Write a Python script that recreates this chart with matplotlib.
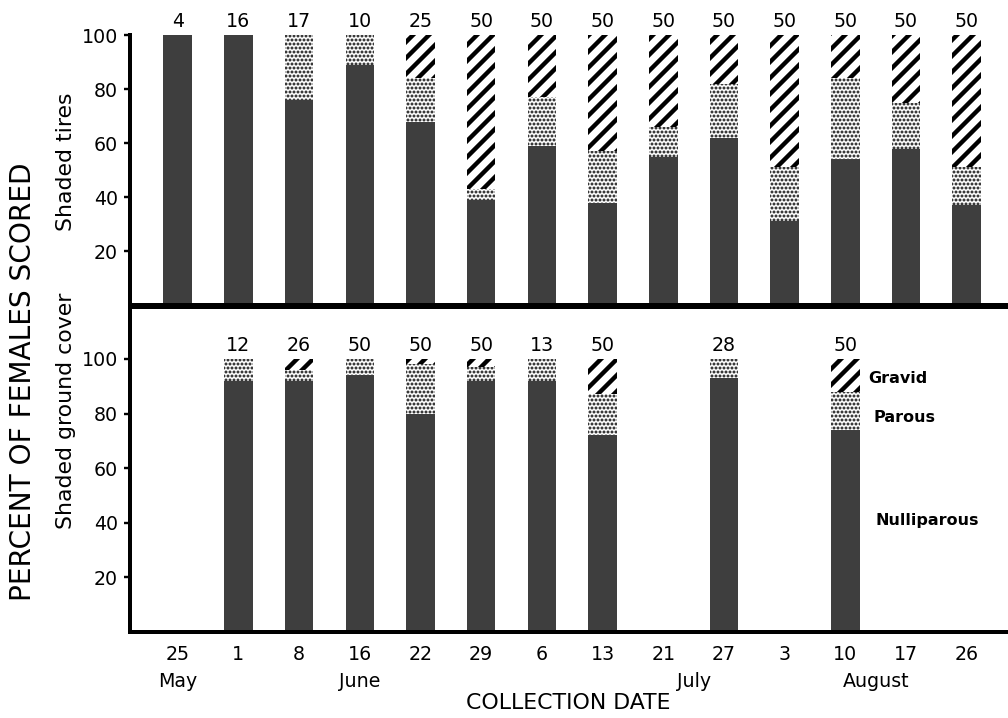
import numpy as np
import matplotlib
matplotlib.use('Agg')
import matplotlib.pyplot as plt
import matplotlib.transforms as mtransforms

# collection dates (day of month) and month labels under the axis
dates = ['25', '1', '8', '16', '22', '29', '6', '13', '21', '27', '3', '10', '17', '26']
months = ['May', 'June', 'July', 'August']
month_pos = [0, 3, 8.5, 11.5]

# Shaded tires: number scored and percent in each class
tires_n = [4, 16, 17, 10, 25, 50, 50, 50, 50, 50, 50, 50, 50, 50]
tires_null = [100, 100, 76, 89, 68, 39, 59, 38, 55, 62, 31, 54, 58, 37]
tires_parous = [0, 0, 24, 11, 16, 4, 18, 19, 11, 20, 20, 30, 17, 14]
tires_gravid = [0, 0, 0, 0, 16, 57, 23, 43, 34, 18, 49, 16, 25, 49]

# Shaded ground cover (None = no collection)
ground_n = [None, 12, 26, 50, 50, 50, 13, 50, None, 28, None, 50, None, None]
ground_null = [0, 92, 92, 94, 80, 92, 92, 72, 0, 93, 0, 74, 0, 0]
ground_parous = [0, 8, 4, 6, 18, 5, 8, 15, 0, 7, 0, 14, 0, 0]
ground_gravid = [0, 0, 4, 0, 2, 3, 0, 13, 0, 0, 0, 12, 0, 0]

plt.rcParams['font.family'] = 'DejaVu Sans'

BAR_W = 0.47
NULL_COLOR = '#3e3e3e'


def hatched_bars(ax, x, heights, bottoms, hatch, hlw):
    plt.rcParams['hatch.linewidth'] = hlw
    bars = ax.bar(x, heights, bottom=bottoms, width=BAR_W, color='white',
                  edgecolor='black', linewidth=0, hatch=hatch)
    for p in bars.patches:
        if hasattr(p, 'set_hatch_linewidth'):
            p.set_hatch_linewidth(hlw)
    return bars


def draw_stack(ax, null, parous, gravid, counts):
    x = np.arange(len(dates))
    null = np.array(null, dtype=float)
    parous = np.array(parous, dtype=float)
    gravid = np.array(gravid, dtype=float)
    ax.bar(x, null, width=BAR_W, color=NULL_COLOR, linewidth=0)
    hatched_bars(ax, x, parous, null, '......', 1.0)
    hatched_bars(ax, x, gravid, null + parous, '///', 2.2)
    for i, n in enumerate(counts):
        if n is not None:
            ax.text(i, 105, str(n), ha='center', va='center', fontsize=9.5,
                    clip_on=False)


fig = plt.figure(figsize=(1008 / 144, 718 / 144), dpi=144)
ax1 = fig.add_axes([0.129, 0.575, 0.871, 0.376])
ax2 = fig.add_axes([0.129, 0.1198, 0.871, 0.4526])

draw_stack(ax1, tires_null, tires_parous, tires_gravid, tires_n)
draw_stack(ax2, ground_null, ground_parous, ground_gravid, ground_n)

for ax, top in [(ax1, 100), (ax2, 119)]:
    ax.set_xlim(-0.786, 13.68)
    ax.set_ylim(0, top)
    ax.set_yticks([20, 40, 60, 80, 100])
    ax.tick_params(axis='y', direction='out', length=3, width=1.2,
                   labelsize=9.5, pad=3)
    ax.spines['right'].set_visible(False)
    for s in ['left', 'bottom', 'top']:
        ax.spines[s].set_linewidth(2)

ax1.spines['top'].set_visible(False)
ax1.set_xticks([])
ax2.set_xticks(np.arange(len(dates)), dates)
ax2.tick_params(axis='x', length=0, labelsize=9.5, pad=6.5)

# legend text beside the 10 August bar
ax2.text(11.37, 93, 'Gravid', fontsize=8, fontweight='bold', va='center')
ax2.text(11.47, 78.4, 'Parous', fontsize=8, fontweight='bold', va='center')
ax2.text(11.49, 41, 'Nulliparous', fontsize=8, fontweight='bold', va='center')

trans = mtransforms.blended_transform_factory(ax2.transData, fig.transFigure)
for m, pos in zip(months, month_pos):
    ax2.text(pos, 0.0515, m, transform=trans, ha='center', va='center',
             fontsize=9.5)
ax2.text(6.43, 0.021, 'COLLECTION DATE', transform=trans, ha='center',
         va='center', fontsize=11)

fig.text(0.023, 1 - 382 / 718, 'PERCENT OF FEMALES SCORED', rotation=90,
         ha='center', va='center', fontsize=14)
fig.text(0.065, 1 - 162 / 718, 'Shaded tires', rotation=90,
         ha='center', va='center', fontsize=11)
fig.text(0.065, 1 - 411 / 718, 'Shaded ground cover', rotation=90,
         ha='center', va='center', fontsize=11)

fig.savefig('out.png', dpi=144)
